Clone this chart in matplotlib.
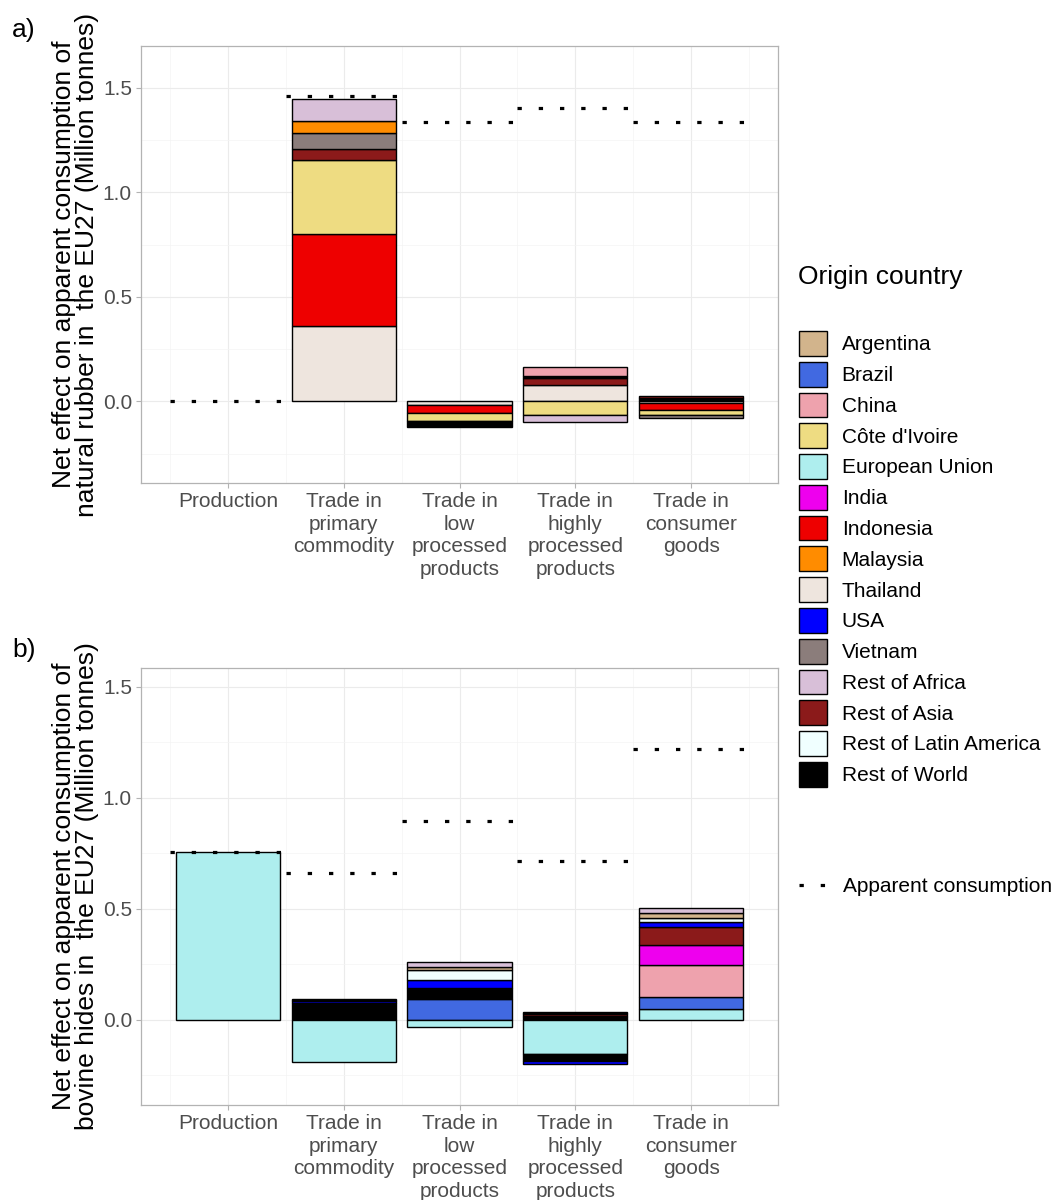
import matplotlib
matplotlib.use("Agg")
import matplotlib.pyplot as plt
from matplotlib.patches import Patch
from matplotlib.lines import Line2D

plt.rcParams['font.family'] = ['Liberation Sans', 'DejaVu Sans']

categories = ["Production", "Trade in\nprimary\ncommodity", "Trade in\nlow\nprocessed\nproducts",
              "Trade in\nhighly\nprocessed\nproducts", "Trade in\nconsumer\ngoods"]

countries = ["Argentina", "Brazil", "China", "Côte d'Ivoire", "European Union", "India",
             "Indonesia", "Malaysia", "Thailand", "USA", "Vietnam", "Rest of Africa",
             "Rest of Asia", "Rest of Latin America", "Rest of World"]
colors = ["#D2B48C", "#4169E1", "#EEA2AD", "#EEDC82", "#AEEEEE", "#EE00EE",
          "#EE0000", "#FF8C00", "#EEE5DE", "#0000FF", "#8B7D7B", "#D8BFD8",
          "#8B1A1A", "#F0FFFF", "#000000"]
col = dict(zip(countries, colors))

# stacking order: positives go up from 0, negatives go down from 0
rubber_segments = [
    [],
    [("Thailand", 0.36), ("Indonesia", 0.44), ("Côte d'Ivoire", 0.357), ("Rest of Asia", 0.052),
     ("Vietnam", 0.075), ("Malaysia", 0.058), ("Rest of Africa", 0.104)],
    [("Thailand", -0.018), ("Indonesia", -0.037), ("Côte d'Ivoire", -0.037), ("Rest of World", -0.031)],
    [("Thailand", 0.077), ("Rest of Asia", 0.035), ("Rest of World", 0.01), ("China", 0.045),
     ("Côte d'Ivoire", -0.063), ("Rest of Africa", -0.037)],
    [("Rest of World", 0.018), ("Rest of Asia", 0.007),
     ("Thailand", -0.008), ("Indonesia", -0.033), ("Côte d'Ivoire", -0.024), ("Vietnam", -0.012)],
]
rubber_apparent = [0.0, 1.46, 1.335, 1.405, 1.335]

hides_segments = [
    [("European Union", 0.757)],
    [("Rest of World", 0.078), ("USA", 0.006), ("Rest of Asia", 0.004), ("China", 0.004),
     ("India", 0.004), ("European Union", -0.188)],
    [("Brazil", 0.093), ("Rest of World", 0.052), ("USA", 0.037), ("Rest of Latin America", 0.043),
     ("Argentina", 0.015), ("Rest of Africa", 0.02), ("European Union", -0.03)],
    [("Rest of World", 0.012), ("India", 0.008), ("Rest of Asia", 0.005), ("China", 0.005),
     ("Argentina", 0.004), ("European Union", -0.155), ("Rest of World", -0.032), ("USA", -0.011)],
    [("European Union", 0.048), ("Brazil", 0.054), ("China", 0.146), ("India", 0.09),
     ("Rest of Asia", 0.082), ("USA", 0.023), ("Rest of Latin America", 0.018),
     ("Argentina", 0.022), ("Rest of Africa", 0.02)],
]
hides_apparent = [0.757, 0.662, 0.896, 0.716, 1.221]

ylabel_a = "Net effect on apparent consumption of\nnatural rubber in  the EU27 (Million tonnes)"
ylabel_b = "Net effect on apparent consumption of\nbovine hides in  the EU27 (Million tonnes)"

dot_style = (0, (1.35, 5.3))


def draw_panel(ax, segments, apparent, ylim, ylabel):
    xs = list(range(1, len(categories) + 1))
    for x, segs in zip(xs, segments):
        pos, neg = 0.0, 0.0
        for country, v in segs:
            if v >= 0:
                ax.bar(x, v, bottom=pos, width=0.9, color=col[country], edgecolor="black",
                       linewidth=1.0, zorder=2)
                pos += v
            else:
                ax.bar(x, v, bottom=neg, width=0.9, color=col[country], edgecolor="black",
                       linewidth=1.0, zorder=2)
                neg += v
    for x, a in zip(xs, apparent):
        ax.plot([x - 0.5, x + 0.5], [a, a], color="black", linewidth=2.3,
                linestyle=dot_style, dash_capstyle="butt", zorder=3)
    ax.set_xlim(0.25, 5.75)
    ax.set_ylim(*ylim)
    ax.set_xticks(xs)
    ax.set_xticklabels(categories, fontsize=15, color="#4D4D4D", linespacing=1.24)
    ax.set_yticks([0.0, 0.5, 1.0, 1.5])
    ax.set_yticklabels(["0.0", "0.5", "1.0", "1.5"], fontsize=15, color="#4D4D4D")
    ax.set_xticks([0.5, 1.5, 2.5, 3.5, 4.5, 5.5], minor=True)
    ax.set_yticks([-0.25, 0.25, 0.75, 1.25], minor=True)
    ax.grid(which="major", color="#EBEBEB", linewidth=0.8, zorder=0)
    ax.grid(which="minor", color="#F4F4F4", linewidth=0.5, zorder=0)
    ax.set_axisbelow(True)
    ax.tick_params(which="major", color="#B3B3B3", length=3.5, width=0.8, pad=3)
    ax.tick_params(which="minor", length=0)
    for s in ax.spines.values():
        s.set_color("#B3B3B3")
        s.set_linewidth(0.9)
    ax.set_ylabel(ylabel, fontsize=19, linespacing=0.95, labelpad=3)


fig = plt.figure(figsize=(10.55, 12), dpi=100)
ax_a = fig.add_axes([141 / 1055, 1 - 483 / 1200, 637 / 1055, 437 / 1200])
ax_b = fig.add_axes([141 / 1055, 1 - 1105 / 1200, 637 / 1055, 437 / 1200])

draw_panel(ax_a, rubber_segments, rubber_apparent, (-0.39, 1.70), ylabel_a)
draw_panel(ax_b, hides_segments, hides_apparent, (-0.383, 1.585), ylabel_b)

fig.text(12 / 1055, 1 - 30 / 1200, "a)", fontsize=19, va="center", ha="left")
fig.text(12 / 1055, 1 - 650 / 1200, "b)", fontsize=19, va="center", ha="left")

fig.text(798 / 1055, 1 - 277 / 1200, "Origin country", fontsize=19, va="center", ha="left")
handles = [Patch(facecolor=c, edgecolor="black", linewidth=1.0) for c in colors]
leg = fig.legend(handles, countries, loc="upper left", bbox_to_anchor=(799 / 1055, 1 - 331 / 1200),
                 frameon=False, fontsize=15, handlelength=1.35, handleheight=1.45,
                 labelspacing=0.29, handletextpad=0.7, borderaxespad=0, borderpad=0)

line_handle = Line2D([0], [0], color="black", linewidth=2.3, linestyle=dot_style)
fig.legend([line_handle], ["Apparent consumption"], loc="upper left",
           bbox_to_anchor=(799 / 1055, 1 - 877 / 1200), frameon=False, fontsize=15,
           handlelength=1.5, handletextpad=0.6, borderaxespad=0, borderpad=0)

fig.savefig("out.png", dpi=100)
